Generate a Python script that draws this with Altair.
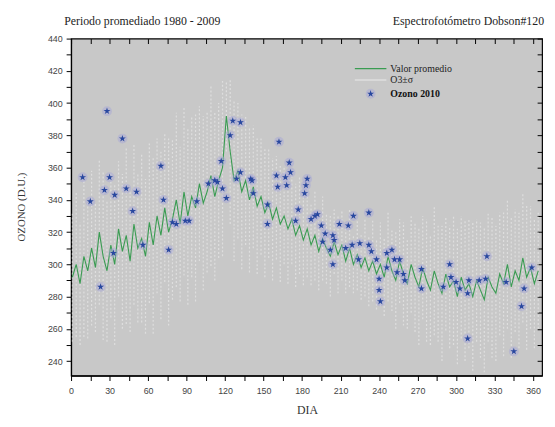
import altair as alt
import pandas as pd

# ---------------- data ----------------
day = list(range(1, 365, 3))  # every third day of the year

mean_o3 = [
    292, 300, 288, 305, 296, 310, 298, 320, 305, 296,
    312, 300, 322, 308, 318, 302, 325, 310, 316, 305,
    326, 312, 330, 318, 335, 320, 328, 340, 325, 345,
    330, 342, 335, 350, 338, 345, 355, 342, 352, 360,
    392, 370, 352, 358, 345, 352, 340, 348, 336, 342,
    332, 338, 328, 335, 325, 330, 322, 328, 318, 324,
    315, 322, 312, 318, 308, 316, 310, 305, 314, 306,
    312, 302, 310, 300, 306, 298, 304, 296, 302, 294,
    300, 292, 305, 296, 290, 302, 294, 288, 300, 292,
    286, 298, 290, 284, 296, 288, 282, 294, 286, 290,
    280, 292, 284, 288, 280, 290, 284, 278, 292, 286,
    282, 294, 288, 300, 286, 296, 290, 304, 292, 298,
    288, 296,
]

sigma = [
    40, 45, 38, 50, 42, 48, 40, 45, 52, 44,
    45, 50, 42, 48, 55, 44, 50, 46, 52, 48,
    50, 55, 48, 52, 46, 58, 50, 54, 48, 52,
    55, 50, 58, 48, 54, 50, 56, 52, 48, 55,
    22, 45, 50, 42, 48, 40, 45, 38, 42, 36,
    40, 34, 38, 32, 36, 30, 34, 28, 32, 30,
    28, 30, 25, 28, 24, 26, 22, 25, 20, 24,
    22, 20, 24, 18, 22, 20, 24, 22, 25, 22,
    26, 24, 28, 25, 30, 26, 32, 28, 30, 34,
    36, 32, 38, 34, 40, 36, 42, 35, 38, 40,
    42, 38, 44, 40, 46, 38, 42, 45, 40, 44,
    42, 38, 45, 40, 44, 38, 42, 40, 45, 38,
    40, 36,
]

star_day = [
    9, 15, 23, 26, 28, 30, 33, 34, 40, 43, 48, 51, 56, 70, 72, 76, 79, 82, 89,
    92, 98, 107, 112, 114, 117, 118, 121, 124, 126, 129, 132, 132, 140, 141, 142,
    153, 153, 160, 161, 162, 167, 168, 170, 171, 175, 177, 182, 183, 184, 187,
    190, 192, 195, 196, 198, 202, 204, 204, 205, 209, 214, 216, 219, 220, 224,
    225, 232, 232, 234, 238, 240, 240, 241, 246, 246, 250, 252, 254, 256, 259,
    260, 273, 273, 290, 295, 296, 300, 303, 309, 309, 310, 318, 323, 324, 339,
    345, 351, 353, 359,
]
star_o3 = [
    354, 339, 286, 346, 395, 354, 307, 343, 378, 347, 333, 345, 312, 361, 340, 309, 326, 325, 327,
    327, 339, 350, 352, 351, 364, 347, 341, 380, 389, 353, 388, 357, 353, 352, 344,
    337, 325, 355, 348, 376, 354, 349, 363, 357, 327, 334, 344, 349, 353, 328,
    330, 331, 324, 314, 319, 309, 318, 300, 315, 325, 310, 324, 312, 330, 303,
    313, 332, 312, 308, 303, 291, 284, 277, 307, 298, 309, 303, 295, 303, 294,
    290, 297, 285, 286, 300, 292, 289, 285, 282, 254, 290, 290, 291, 305, 289,
    246, 274, 285, 298,
]

x_ticks = [0, 15, 30, 45, 60, 75, 90, 105, 120, 135, 150, 165, 180, 195, 210,
           225, 240, 255, 270, 285, 300, 315, 330, 345, 360]
y_ticks = [240, 250, 260, 270, 280, 290, 300, 310, 320, 330, 340, 350, 360,
           370, 380, 390, 400, 410, 420, 430, 440]

title_left = "Periodo promediado 1980 - 2009"
title_right = "Espectrofotómetro Dobson#120"
y_title = "OZONO (D.U.)"
x_title = "DIA"
legend_labels = ["Valor promedio", "O3±σ", "Ozono 2010"]

# ---------------- tables ----------------
df = pd.DataFrame({"dia": day, "media": mean_o3, "sigma": sigma})
df["lo"] = df["media"] - df["sigma"]
df["hi"] = df["media"] + df["sigma"]
stars = pd.DataFrame({"dia": star_day, "ozono": star_o3})
one = pd.DataFrame({"k": [0]})

xs = alt.Scale(domain=[0, 367], nice=False, zero=False)
ys = alt.Scale(domain=[231, 440], nice=False, zero=False)

SANS = "Liberation Sans"
SERIF = "Liberation Serif"
STAR = ("M0,-1L0.2245,-0.309L0.951,-0.309L0.363,0.118L0.588,0.809L0,0.382"
        "L-0.588,0.809L-0.363,0.118L-0.951,-0.309L-0.2245,-0.309Z")

x_axis = alt.Axis(
    values=x_ticks, labelExpr="datum.value % 30 == 0 ? format(datum.value, 'd') : ''",
    title=None, grid=False, tickSize=5, tickColor="black", domainColor="black",
    domainWidth=1.2, labelFont=SANS, labelFontSize=9, labelColor="#444",
    labelPadding=6, labelFlush=False, labelOverlap=False)
y_axis = alt.Axis(
    values=y_ticks, labelExpr="datum.value % 20 == 0 ? format(datum.value, 'd') : ''",
    title=None, grid=False, tickSize=5, tickColor="black", domainColor="black",
    domainWidth=1.2, labelFont=SANS, labelFontSize=9, labelColor="#444",
    labelPadding=4, labelFlush=False, labelOverlap=False)
x_top = alt.Axis(orient="top", values=x_ticks, labels=False, domain=False, title=None,
                 grid=False, tickSize=5, offset=-5, tickColor="black")
y_right = alt.Axis(orient="right", values=y_ticks, labels=False, domain=False, title=None,
                   grid=False, tickSize=5, offset=-5, tickColor="black")

band = alt.Chart(df).mark_rule(color="#f4f4f4", opacity=0.5, strokeWidth=1.3,
                               strokeDash=[2, 2]).encode(
    x=alt.X("dia:Q", scale=xs, axis=x_axis),
    y=alt.Y("lo:Q", scale=ys, axis=y_axis),
    y2="hi:Q",
)

mirror = alt.Chart(df).mark_point(opacity=0).encode(
    x=alt.X("dia:Q", scale=xs, axis=x_top),
    y=alt.Y("media:Q", scale=ys, axis=y_right),
)

line = alt.Chart(df).mark_line(color="#3a9c52", strokeWidth=1.1).encode(
    x=alt.X("dia:Q", scale=xs, axis=None),
    y=alt.Y("media:Q", scale=ys, axis=None),
)

halo = alt.Chart(stars).mark_point(shape="circle", filled=True, color="#a4a4d8",
                                   opacity=0.45, size=100).encode(
    x=alt.X("dia:Q", scale=xs, axis=None),
    y=alt.Y("ozono:Q", scale=ys, axis=None),
)
star_pts = alt.Chart(stars).mark_point(shape=STAR, filled=True, color="#28479f",
                                       opacity=1, size=55).encode(
    x=alt.X("dia:Q", scale=xs, axis=None),
    y=alt.Y("ozono:Q", scale=ys, axis=None),
)

def txt(s, x, y, **kw):
    return alt.Chart(one).mark_text(text=s, **kw).encode(x=alt.value(x), y=alt.value(y))

leg_green = alt.Chart(one).mark_rule(color="#3a9c52", strokeWidth=1.2).encode(
    x=alt.value(288), x2=alt.value(320), y=alt.value(30.5))
leg_white = alt.Chart(one).mark_rule(color="#f2f2f2", strokeWidth=1.2, opacity=0.8).encode(
    x=alt.value(288), x2=alt.value(320), y=alt.value(42))
leg_halo = alt.Chart(one).mark_point(shape="circle", filled=True, color="#a4a4d8",
                                     opacity=0.45, size=100).encode(
    x=alt.value(304), y=alt.value(56))
leg_star = alt.Chart(one).mark_point(shape=STAR, filled=True, color="#28479f",
                                     opacity=1, size=55).encode(
    x=alt.value(304), y=alt.value(56))

texts = [
    txt(legend_labels[0], 324, 30.5, align="left", baseline="middle", font=SERIF,
        fontSize=10, color="#222"),
    txt(legend_labels[1], 324, 42, align="left", baseline="middle", font=SERIF,
        fontSize=10, color="#222"),
    txt(legend_labels[2], 324, 56, align="left", baseline="middle", font=SERIF,
        fontSize=10, fontWeight="bold", color="#111"),
    txt(title_left, -7, -14, align="left", baseline="alphabetic", font=SERIF,
        fontSize=12, color="#222"),
    txt(title_right, 480, -14, align="right", baseline="alphabetic", font=SERIF,
        fontSize=12, color="#222"),
    txt(y_title, -50, 171, align="center", baseline="middle", angle=270, font=SERIF,
        fontSize=11, color="#333"),
    txt(x_title, 240, 381, align="center", baseline="alphabetic", font=SERIF,
        fontSize=12, color="#333"),
]

chart = alt.layer(
    band, mirror, line, halo, star_pts, leg_green, leg_white, leg_halo, leg_star, *texts
).resolve_axis(x="independent", y="independent").properties(
    width=478, height=342,
    autosize=alt.AutoSizeParams(type="none"),
    padding={"left": 64, "top": 28, "right": 5, "bottom": 41},
    background="white",
).configure_view(fill="#c8c8c8", stroke="black", strokeWidth=1.2)

chart.save("out.html", embed_options={"renderer": "svg", "actions": False})
